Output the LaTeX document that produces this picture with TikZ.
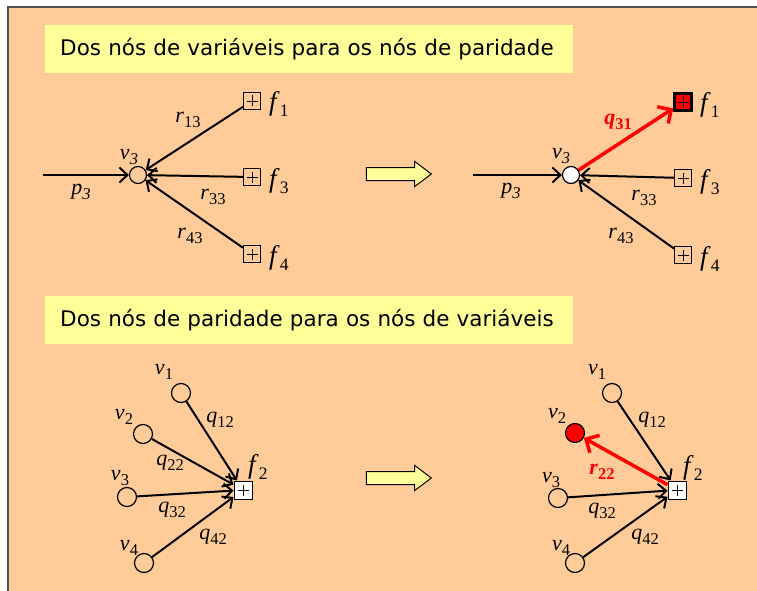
\documentclass[tikz,border=0pt]{standalone}
\usepackage{fontspec}
\setmainfont{Liberation Serif}
\newfontfamily\titlefont{DejaVu Sans}
\usetikzlibrary{arrows.meta,shapes.arrows}
\definecolor{bgorange}{HTML}{FFCC99}
\definecolor{boxyellow}{HTML}{FFFF99}
\definecolor{framegray}{HTML}{505050}
% italic letter with a lowered, smaller index
\newcommand{\ix}[2]{\textit{#1}\raisebox{-0.2em}{\scalebox{0.75}{#2}}}
\newcommand{\fx}[2]{\textit{#1}\raisebox{-0.2em}{\scalebox{0.65}{#2}}}
\tikzset{
  varnode/.style={circle, draw, line width=1.2pt, minimum size=17pt, inner sep=0pt},
  chknode/.style={rectangle, draw, line width=1pt, minimum size=17pt, inner sep=0pt,
    path picture={\draw[line width=0.8pt]
      ([xshift=-5.5pt]path picture bounding box.center) -- ([xshift=5.5pt]path picture bounding box.center)
      ([yshift=-5.5pt]path picture bounding box.center) -- ([yshift=5.5pt]path picture bounding box.center);}},
  edge/.style={draw, line width=2pt, -{Straight Barb[length=8pt,width=15pt,line width=2pt]}},
  rededge/.style={draw=red, line width=3.5pt, -{Straight Barb[length=10pt,width=20pt,line width=3.5pt]}},
  lbl/.style={inner sep=0pt, font=\fontsize{22}{26}\selectfont},
  flbl/.style={inner sep=0pt, anchor=west, font=\fontsize{27}{30}\selectfont},
  titlebox/.style={fill=boxyellow, anchor=north west, text width=498pt, inner xsep=15pt,
    minimum height=48pt, align=left, font=\titlefont\fontsize{21.5}{26}\selectfont},
  bigarrow/.style={single arrow, draw, line width=1pt, fill=boxyellow,
    inner xsep=0pt, inner ysep=6pt, minimum height=65pt,
    single arrow head extend=6pt, single arrow tip angle=74}
}
\begin{document}
\begin{tikzpicture}[x=1pt,y=-1pt]
\useasboundingbox (0,0) rectangle (757,591);
% background panel
\fill[bgorange] (8,7) rectangle (757,591);
\draw[framegray, line width=2pt] (8,591) -- (8,7) -- (757,7);
\node[titlebox] (t1) at (45,25) {Dos nós de variáveis para os nós de paridade};
\node[titlebox] (t2) at (45,296) {Dos nós de paridade para os nós de variáveis};

% ---- top left: variable node v3 collects r messages
\node[varnode] (va) at (138,175) {};
\foreach \n/\y in {1/101,3/177,4/254}
  \node[chknode] (fa\n) at (252,\y) {};
\coordinate (pa) at (43,175);
\draw[edge] (pa) -- (va);
\foreach \n in {1,3,4}
  \draw[edge] (fa\n) -- (va);
\node[lbl] (lva) at (129,157) {\textit{v\raisebox{-0.2em}{\scalebox{0.75}{3}}}};
\node[lbl] (lpa) at (81,192) {\textit{p\raisebox{-0.2em}{\scalebox{0.75}{3}}}};
\node[lbl] (lra1) at (188,120) {\ix{r}{13}};
\node[lbl] (lra3) at (213,197) {\ix{r}{33}};
\node[lbl] (lra4) at (190,236) {\ix{r}{43}};
\foreach \n/\y in {1/104,3/181,4/258}
  \node[flbl] (lfa\n) at (269,\y) {\fx{f}{\n}};

\node[bigarrow] (go1) at (394.5,174) {};

% ---- top right: v3 answers f1 with q31
\node[varnode, fill=white] (vb) at (571,175) {};
\node[chknode, fill=red, line width=2.5pt] (fb1) at (683,102) {};
\foreach \n/\y in {3/178,4/255}
  \node[chknode] (fb\n) at (683,\y) {};
\coordinate (pb) at (473,175);
\draw[edge] (pb) -- (vb);
\foreach \n in {3,4}
  \draw[edge] (fb\n) -- (vb);
\draw[rededge] (vb) -- (fb1);
\node[lbl] (lvb) at (561,156) {\textit{v\raisebox{-0.2em}{\scalebox{0.75}{3}}}};
\node[lbl] (lpb) at (511,191) {\textit{p\raisebox{-0.2em}{\scalebox{0.75}{3}}}};
\node[lbl, text=red] (lqb) at (618,122) {\textbf{\ix{q}{31}}};
\node[lbl] (lrb3) at (644,198) {\ix{r}{33}};
\node[lbl] (lrb4) at (621,236) {\ix{r}{43}};
\foreach \n/\y in {1/105,3/182,4/259}
  \node[flbl] (lfb\n) at (700,\y) {\fx{f}{\n}};

% ---- bottom left: parity node f2 collects q messages
\node[chknode, fill=white, minimum size=18pt] (fc) at (243,490) {};
\foreach \n/\x/\y in {1/181/393,2/143/434,3/127/497,4/144/563}
  \node[varnode, minimum size=19pt] (vc\n) at (\x,\y) {};
\foreach \n in {1,...,4}
  \draw[edge] (vc\n) -- (fc);
\node[flbl] (lfc) at (248,467) {\fx{f}{2}};
\foreach \n/\x/\y in {1/164/372,2/124/417,3/120/478,4/129/548}
  \node[lbl] (lvc\n) at (\x,\y) {\ix{v}{\n}};
\node[lbl] (lqc1) at (220,420) {\ix{q}{12}};
\node[lbl] (lqc2) at (170,463) {\ix{q}{22}};
\node[lbl] (lqc3) at (172,510) {\ix{q}{32}};
\node[lbl] (lqc4) at (213,537) {\ix{q}{42}};

\node[bigarrow] (go2) at (394.5,478) {};

% ---- bottom right: f2 answers v2 with r22
\node[chknode, fill=white, minimum size=18pt] (fd) at (677,490) {};
\foreach \n/\x/\y in {1/612/393,3/558/498,4/575/563}
  \node[varnode, minimum size=19pt] (vd\n) at (\x,\y) {};
\node[varnode, fill=red, minimum size=19pt] (vd2) at (575,433) {};
\foreach \n in {1,3,4}
  \draw[edge] (vd\n) -- (fd);
\draw[rededge] (fd) -- (vd2);
\node[flbl] (lfd) at (683,468) {\fx{f}{2}};
\foreach \n/\x/\y in {1/597/372,2/557/416,3/551/480,4/561/548}
  \node[lbl] (lvd\n) at (\x,\y) {\ix{v}{\n}};
\node[lbl] (lqd1) at (652,420) {\ix{q}{12}};
\node[lbl, text=red] (lrd) at (602,472) {\textbf{\ix{r}{22}}};
\node[lbl] (lqd3) at (602,511) {\ix{q}{32}};
\node[lbl] (lqd4) at (645,537) {\ix{q}{42}};
\end{tikzpicture}
\end{document}
